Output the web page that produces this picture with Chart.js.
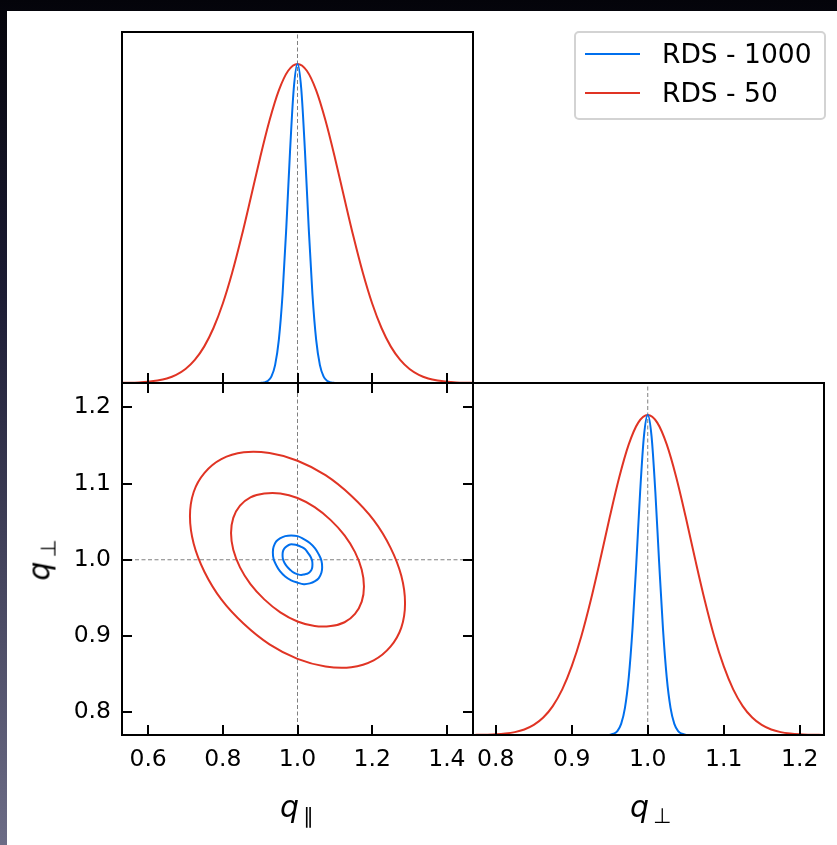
<!DOCTYPE html>
<html>
<head>
<meta charset="utf-8">
<script src="https://cdn.jsdelivr.net/npm/chart.js@4.4.0/dist/chart.umd.min.js"></script>
<style>
  html, body { margin: 0; padding: 0; }
  body { width: 837px; height: 845px; overflow: hidden; position: relative;
         background: linear-gradient(#04040a 0%, #1c1c34 35%, #6c6c86 100%);
         font-family: "DejaVu Sans", sans-serif; }
  #sheet { position: absolute; left: 7px; top: 11px; width: 830px; height: 834px; background: #fff; }
  canvas { position: absolute; left: 0; top: 0; }
  #legend { position: absolute; left: 574px; top: 31px; width: 248px; height: 85px;
            border: 2px solid #d3d3d3; border-radius: 5px; background: rgba(255,255,255,0.8); }
  .item { position: absolute; left: 0; height: 30px; line-height: 30px; font-size: 26.5px; color: #000; white-space: nowrap; }
  .swatch { position: absolute; left: 9px; top: 14px; width: 55px; height: 2px; }
  .item span.txt { position: absolute; left: 86px; top: 0; }
  .alabel { position: absolute; font-size: 30px; color: #000; white-space: nowrap; line-height: 30px; }
  .alabel i { font-style: oblique; }
  .alabel sub { font-size: 21px; vertical-align: -6px; margin-left: 4px; }
</style>
</head>
<body>
<div id="sheet"></div>
<canvas id="top" width="837" height="845"></canvas>
<canvas id="joint" width="837" height="845"></canvas>
<canvas id="side" width="837" height="845"></canvas>
<div id="legend"></div>
<div class="alabel" style="left:280px; top:792px;"><i>q</i><sub>∥</sub></div>
<div class="alabel" style="left:630px; top:792px;"><i>q</i><sub>⊥</sub></div>
<div class="alabel" style="left:44px; top:560px; transform: translate(-50%,-50%) rotate(-90deg);"><i>q</i><sub>⊥</sub></div>
<script>
// series
const seriesNames = ['RDS - 1000', 'RDS - 50'];
const seriesColors = ['#006FED', '#E03424'];

// axes
const qParRange = [0.53, 1.47];
const qPerpRange = [0.770, 1.232];
const peakRange = [0, 1.1];
const qParTicks = [0.6, 0.8, 1.0, 1.2, 1.4];
const qPerpTicks = [0.8, 0.9, 1.0, 1.1, 1.2];
const truth = 1.0;

// 1D marginals, q_parallel
const blueParX = [0.90, 0.91, 0.92, 0.93, 0.94, 0.95, 0.96, 0.97, 0.98, 0.99, 1.00, 1.01, 1.02, 1.03, 1.04, 1.05, 1.06, 1.07, 1.08, 1.09, 1.10];
const blueParY = [0.0003, 0.0015, 0.0060, 0.0198, 0.0561, 0.135, 0.278, 0.487, 0.726, 0.923, 1.000, 0.923, 0.726, 0.487, 0.278, 0.135, 0.0561, 0.0198, 0.0060, 0.0015, 0.0003];
const redParX = [0.53, 0.55, 0.575, 0.60, 0.625, 0.65, 0.675, 0.70, 0.725, 0.75, 0.775, 0.80, 0.825, 0.85, 0.875, 0.90, 0.925, 0.95, 0.975, 1.00,
                 1.025, 1.05, 1.075, 1.10, 1.125, 1.15, 1.175, 1.20, 1.225, 1.25, 1.275, 1.30, 1.325, 1.35, 1.375, 1.40, 1.425, 1.45, 1.47];
const redParY = [0.0005, 0.0009, 0.0019, 0.0039, 0.0076, 0.0142, 0.0255, 0.0439, 0.0724, 0.114, 0.1724, 0.249, 0.3453, 0.458, 0.5813, 0.707, 0.8226, 0.917, 0.9785, 1.000,
                 0.9785, 0.917, 0.8226, 0.707, 0.5813, 0.458, 0.3453, 0.249, 0.1724, 0.114, 0.0724, 0.0439, 0.0255, 0.0142, 0.0076, 0.0039, 0.0019, 0.0009, 0.0005];

// 1D marginals, q_perp
const bluePerpX = [0.950, 0.955, 0.960, 0.965, 0.970, 0.975, 0.980, 0.985, 0.990, 0.995, 1.000, 1.005, 1.010, 1.015, 1.020, 1.025, 1.030, 1.035, 1.040, 1.045, 1.050];
const bluePerpY = [0.0011, 0.0039, 0.0124, 0.0347, 0.0847, 0.180, 0.334, 0.539, 0.760, 0.934, 1.000, 0.934, 0.760, 0.539, 0.334, 0.180, 0.0847, 0.0347, 0.0124, 0.0039, 0.0011];
const redPerpX = [0.770, 0.775, 0.7875, 0.800, 0.8125, 0.825, 0.8375, 0.850, 0.8625, 0.875, 0.8875, 0.900, 0.9125, 0.925, 0.9375, 0.950, 0.9625, 0.975, 0.9875, 1.000,
                  1.0125, 1.025, 1.0375, 1.050, 1.0625, 1.075, 1.0875, 1.100, 1.1125, 1.125, 1.1375, 1.150, 1.1625, 1.175, 1.1875, 1.200, 1.2125, 1.225, 1.232];
const redPerpY = [0.0003, 0.0004, 0.0010, 0.0021, 0.0045, 0.0090, 0.0172, 0.0314, 0.0545, 0.0903, 0.1426, 0.215, 0.3078, 0.421, 0.5482, 0.681, 0.8054, 0.908, 0.9762, 1.000,
                  0.9762, 0.908, 0.8054, 0.681, 0.5482, 0.421, 0.3078, 0.215, 0.1426, 0.0903, 0.0545, 0.0314, 0.0172, 0.0090, 0.0045, 0.0021, 0.0010, 0.0004, 0.0003];

// 2D contours (68% / 95%), read around each ring
const blueInnerX = [1.040, 1.039, 1.035, 1.028, 1.020, 1.010, 1.000, 0.990, 0.980, 0.972, 0.965, 0.961, 0.960, 0.961, 0.965, 0.972, 0.980, 0.990, 1.000, 1.010, 1.020, 1.028, 1.035, 1.039];
const blueInnerY = [0.994, 0.999, 1.004, 1.009, 1.014, 1.017, 1.019, 1.020, 1.020, 1.018, 1.015, 1.011, 1.006, 1.001, 0.996, 0.991, 0.987, 0.983, 0.981, 0.980, 0.981, 0.982, 0.985, 0.989];
const blueOuterX = [1.066, 1.064, 1.057, 1.047, 1.033, 1.017, 1.000, 0.983, 0.967, 0.953, 0.943, 0.936, 0.934, 0.936, 0.943, 0.953, 0.967, 0.983, 1.000, 1.017, 1.033, 1.047, 1.057, 1.064];
const blueOuterY = [0.990, 0.999, 1.007, 1.015, 1.022, 1.027, 1.031, 1.032, 1.031, 1.028, 1.024, 1.017, 1.010, 1.001, 0.993, 0.985, 0.978, 0.973, 0.970, 0.968, 0.969, 0.972, 0.976, 0.983];
const redInnerX = [1.178, 1.172, 1.154, 1.126, 1.089, 1.046, 1.000, 0.954, 0.911, 0.874, 0.846, 0.828, 0.822, 0.828, 0.846, 0.874, 0.911, 0.954, 1.000, 1.046, 1.089, 1.126, 1.154, 1.172];
const redInnerY = [0.965, 0.987, 1.010, 1.032, 1.052, 1.069, 1.081, 1.087, 1.087, 1.082, 1.071, 1.055, 1.035, 1.013, 0.990, 0.968, 0.948, 0.931, 0.919, 0.913, 0.913, 0.918, 0.929, 0.945];
const redOuterX = [1.288, 1.278, 1.249, 1.204, 1.144, 1.075, 1.000, 0.925, 0.856, 0.796, 0.751, 0.722, 0.712, 0.722, 0.751, 0.796, 0.856, 0.925, 1.000, 1.075, 1.144, 1.204, 1.249, 1.278];
const redOuterY = [0.943, 0.979, 1.016, 1.052, 1.084, 1.111, 1.130, 1.140, 1.141, 1.132, 1.114, 1.089, 1.057, 1.021, 0.984, 0.948, 0.916, 0.889, 0.870, 0.860, 0.859, 0.868, 0.886, 0.911];

function pts(xs, ys) {
  return xs.map((x, i) => ({ x: x, y: ys[i] }));
}
// closed ring: wrap one point on each end so the spline has neighbours at the seam
function ring(xs, ys) {
  const p = pts(xs, ys);
  return [p[p.length - 1]].concat(p, [p[0], p[1]]);
}
function curve(data, color) {
  return { data: data, borderColor: color, borderWidth: 2, pointRadius: 0, showLine: true,
           fill: false, cubicInterpolationMode: 'monotone' };
}
function contour(data, color) {
  const last = data.length - 1;
  return { data: data, borderColor: color, borderWidth: 2, pointRadius: 0, showLine: true,
           fill: false, tension: 0.4,
           segment: { borderColor: c => (c.p0DataIndex === 0 || c.p1DataIndex === last) ? 'rgba(0,0,0,0)' : undefined } };
}
function dashed(data) {
  return { data: data, borderColor: '#808080', borderWidth: 1, borderDash: [4, 2.5],
           pointRadius: 0, showLine: true, fill: false };
}

// frame on all four sides and inward tick marks
const framePlugin = {
  id: 'frame',
  afterDatasetsDraw(chart, args, o) {
    const ctx = chart.ctx, a = chart.chartArea, sx = chart.scales.x, sy = chart.scales.y;
    ctx.save();
    ctx.strokeStyle = '#000';
    ctx.lineWidth = 2;
    ctx.beginPath();
    (o.x || []).forEach(side => {
      const y0 = side === 'bottom' ? a.bottom : a.top;
      const dir = side === 'bottom' ? -1 : 1;
      sx.ticks.forEach(t => {
        const px = Math.round(sx.getPixelForValue(t.value));
        ctx.moveTo(px, y0); ctx.lineTo(px, y0 + dir * 10);
      });
    });
    (o.y || []).forEach(side => {
      const x0 = side === 'left' ? a.left : a.right;
      const dir = side === 'left' ? 1 : -1;
      sy.ticks.forEach(t => {
        const py = Math.round(sy.getPixelForValue(t.value));
        ctx.moveTo(x0, py); ctx.lineTo(x0 + dir * 10, py);
      });
    });
    ctx.stroke();
    ctx.strokeRect(a.left, a.top, a.right - a.left, a.bottom - a.top);
    ctx.restore();
  }
};

const tickFont = { family: 'DejaVu Sans', size: 23.5 };

function axis(range, ticks, show, pos) {
  const s = {
    type: 'linear', position: pos, min: range[0], max: range[1], display: show,
    afterBuildTicks: sc => { sc.ticks = ticks.map(v => ({ value: v })); },
    grid: { display: false, drawTicks: false },
    border: { display: false },
    ticks: { color: '#000', font: tickFont, padding: pos === 'bottom' ? 11 : 11,
             autoSkip: false, maxRotation: 0, callback: v => v.toFixed(1) }
  };
  if (show) {
    if (pos === 'bottom') s.afterFit = sc => { sc.height = 60; };
    else s.afterFit = sc => { sc.width = 60; };
  }
  return s;
}

function panel(id, datasets, xAxis, yAxis, pad, sides) {
  return new Chart(document.getElementById(id), {
    type: 'scatter',
    data: { datasets: datasets },
    options: {
      responsive: false, animation: false, devicePixelRatio: 1, events: [],
      layout: { padding: pad },
      plugins: { legend: { display: false }, tooltip: { enabled: false }, frame: sides },
      scales: { x: xAxis, y: yAxis }
    },
    plugins: [framePlugin]
  });
}

// q_parallel marginal
panel('top', [
  curve(pts(blueParX, blueParY), seriesColors[0]),
  curve(pts(redParX, redParY), seriesColors[1]),
  dashed([{ x: truth, y: peakRange[0] }, { x: truth, y: peakRange[1] }])
], axis(qParRange, qParTicks, false, 'bottom'), axis(peakRange, [], false, 'left'),
  { left: 122, top: 32, right: 364, bottom: 462 }, { x: ['bottom'], y: [] });

// joint contours
panel('joint', [
  contour(ring(redOuterX, redOuterY), seriesColors[1]),
  contour(ring(redInnerX, redInnerY), seriesColors[1]),
  contour(ring(blueOuterX, blueOuterY), seriesColors[0]),
  contour(ring(blueInnerX, blueInnerY), seriesColors[0]),
  dashed([{ x: truth, y: qPerpRange[0] }, { x: truth, y: qPerpRange[1] }]),
  dashed([{ x: qParRange[0], y: truth }, { x: qParRange[1], y: truth }])
], axis(qParRange, qParTicks, true, 'bottom'), axis(qPerpRange, qPerpTicks, true, 'left'),
  { left: 62, top: 383, right: 364, bottom: 50 }, { x: ['bottom', 'top'], y: ['left', 'right'] });

// q_perp marginal
panel('side', [
  curve(pts(bluePerpX, bluePerpY), seriesColors[0]),
  curve(pts(redPerpX, redPerpY), seriesColors[1]),
  dashed([{ x: truth, y: peakRange[0] }, { x: truth, y: peakRange[1] }])
], axis(qPerpRange, qPerpTicks, true, 'bottom'), axis(peakRange, [], false, 'left'),
  { left: 473, top: 383, right: 13, bottom: 50 }, { x: ['bottom'], y: [] });

// legend
const legend = document.getElementById('legend');
seriesNames.forEach((name, i) => {
  const it = document.createElement('div');
  it.className = 'item';
  it.style.top = (6 + i * 39) + 'px';
  it.innerHTML = '<span class="swatch" style="background:' + seriesColors[i] + '"></span><span class="txt">' + name + '</span>';
  legend.appendChild(it);
});
</script>
</body>
</html>
